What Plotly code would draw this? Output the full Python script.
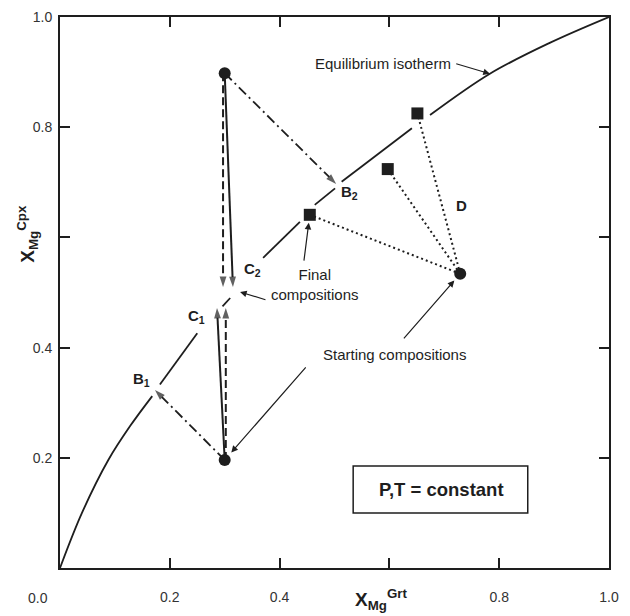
import plotly.graph_objects as go

# ---- data ----
# equilibrium isotherm (traced; None = gaps in the drawn curve)
iso_x = [0.0, 0.040, 0.088, 0.128, 0.168, None, 0.182, 0.250, None, 0.296, 0.310, None,
         0.370, 0.437, None, 0.464, 0.501, None, 0.513, 0.641, None, 0.674, 0.783, 0.892, 1.0]
iso_y = [0.0, 0.100, 0.196, 0.258, 0.312, None, 0.333, 0.426, None, 0.475, 0.490, None,
         0.563, 0.628, None, 0.659, 0.689, None, 0.701, 0.798, None, 0.822, 0.897, 0.953, 1.0]

# starting compositions (circles): top, bottom, D
start_x = [0.300, 0.300, 0.729]
start_y = [0.898, 0.196, 0.534]

# final compositions (squares)
final_x = [0.455, 0.597, 0.651]
final_y = [0.641, 0.724, 0.825]

# end points of the exchange paths
b1_end = (0.173, 0.323)
b2_end = (0.503, 0.697)
c1_solid_end = (0.286, 0.472)
c1_dash_end = (0.302, 0.472)
c2_solid_end = (0.315, 0.510)
c2_dash_end = (0.297, 0.510)

x_ticks = [0.2, 0.4, 0.6, 0.8, 1.0]
x_ticktext = ["0.2", "0.4", "", "0.8", "1.0"]
y_ticks = [0.2, 0.4, 0.6, 0.8, 1.0]
y_ticktext = ["0.2", "0.4", "", "0.8", "1.0"]

INK = "#1e1e1e"
FONT = "Liberation Sans, Arial, Helvetica, sans-serif"

fig = go.Figure()

# isotherm
fig.add_trace(go.Scatter(x=iso_x, y=iso_y, mode="lines", line=dict(color=INK, width=1.8, shape="spline"),
                         connectgaps=False, hoverinfo="skip"))


def arrow_path(x0, y0, x1, y1, dash, width=1.8):
    fig.add_trace(go.Scatter(
        x=[x0, x1], y=[y0, y1], mode="lines+markers",
        line=dict(color=INK, width=width, dash=dash),
        marker=dict(symbol="arrow", size=[0, 11], angleref="previous", color=INK,
                    line=dict(width=0)),
        hoverinfo="skip"))


def plain_path(x0, y0, x1, y1, dash, width=2):
    fig.add_trace(go.Scatter(x=[x0, x1], y=[y0, y1], mode="lines",
                             line=dict(color=INK, width=width, dash=dash), hoverinfo="skip"))


# path B (dash-dot) to the isotherm
arrow_path(start_x[1], start_y[1], b1_end[0], b1_end[1], "10px,4px,2px,4px")
arrow_path(start_x[0], start_y[0], b2_end[0], b2_end[1], "10px,4px,2px,4px")
# path C (solid + dashed, vertical)
arrow_path(start_x[1], start_y[1], c1_solid_end[0], c1_solid_end[1], "solid", 2)
arrow_path(start_x[1] + 0.002, start_y[1], c1_dash_end[0], c1_dash_end[1], "8px,4px", 2)
arrow_path(start_x[0], start_y[0], c2_solid_end[0], c2_solid_end[1], "solid", 2)
arrow_path(start_x[0] - 0.003, start_y[0], c2_dash_end[0], c2_dash_end[1], "8px,4px", 2)
# path D (dotted) to the three final compositions
for fx, fy in zip(final_x, final_y):
    plain_path(start_x[2], start_y[2], fx, fy, "2px,3px", 2)

# markers
fig.add_trace(go.Scatter(x=final_x, y=final_y, mode="markers",
                         marker=dict(symbol="square", size=12, color=INK), hoverinfo="skip"))
fig.add_trace(go.Scatter(x=start_x, y=start_y, mode="markers",
                         marker=dict(symbol="circle", size=12, color=INK), hoverinfo="skip"))

ann = []


def label(x, y, text, size=15, bold=True):
    ann.append(dict(x=x, y=y, xref="x", yref="y", text=f"<b>{text}</b>" if bold else text,
                    showarrow=False, font=dict(family=FONT, size=size, color=INK)))


label(0.149, 0.343, "B<sub>1</sub>")
label(0.249, 0.456, "C<sub>1</sub>")
label(0.350, 0.541, "C<sub>2</sub>")
label(0.528, 0.681, "B<sub>2</sub>")
label(0.732, 0.657, "D")
label(0.588, 0.916, "Equilibrium isotherm", size=15, bold=False)
label(0.464, 0.515, "Final<br>compositions", size=15, bold=False)
label(0.610, 0.387, "Starting compositions", size=15, bold=False)
label(0.694, 0.142, "P,T = constant", size=18.5)


def pointer(x, y, ax, ay, standoff=0):
    ann.append(dict(x=x, y=y, ax=ax, ay=ay, xref="x", yref="y", axref="x", ayref="y",
                    text="", showarrow=True, arrowhead=2, arrowsize=1.1, arrowwidth=1.2,
                    arrowcolor=INK, standoff=standoff))


pointer(iso_x[22], iso_y[22], 0.719, 0.916)
pointer(final_x[0], final_y[0], 0.444, 0.555, standoff=8)
pointer(0.328, 0.501, 0.377, 0.486)
pointer(start_x[2], start_y[2], 0.624, 0.414, standoff=9)
pointer(start_x[1], start_y[1], 0.450, 0.367, standoff=10)

# origin label and axis titles
ann.append(dict(x=-0.062, y=-0.072, xref="paper", yref="paper", text="0.0", showarrow=False,
                font=dict(family=FONT, size=14, color="#333")))
ann.append(dict(x=0.585, y=-0.086, xref="paper", yref="paper",
                text="<b>X<sub>Mg</sub><sup>Grt</sup></b>", showarrow=False,
                font=dict(family=FONT, size=19, color=INK)))
ann.append(dict(x=-0.089, y=0.606, xref="paper", yref="paper", textangle=-90,
                text="<b>X<sub>Mg</sub><sup>Cpx</sup></b>", showarrow=False,
                font=dict(family=FONT, size=19, color=INK)))

# page body adds an 8px offset, so the figure is 8px smaller than the window
fig.update_layout(
    width=622, height=608,
    margin=dict(l=52, r=21, t=9, b=48, autoexpand=False),
    paper_bgcolor="white", plot_bgcolor="white",
    showlegend=False,
    annotations=ann,
    shapes=[dict(type="rect", xref="x", yref="y", x0=0.534, x1=0.852, y0=0.100, y1=0.185,
                 line=dict(color=INK, width=1.5))],
    font=dict(family=FONT, size=14, color="#333"),
)
axis_common = dict(range=[0, 1], showgrid=False, zeroline=False, showline=True, linecolor=INK,
                   linewidth=2, mirror="ticks", ticks="inside", ticklen=10, tickwidth=1.5,
                   tickcolor=INK, automargin=False,
                   tickfont=dict(family=FONT, size=14, color="#333"))
fig.update_xaxes(**axis_common, tickvals=x_ticks, ticktext=x_ticktext, ticklabelstandoff=15)
fig.update_yaxes(**axis_common, tickvals=y_ticks, ticktext=y_ticktext, ticklabelstandoff=3)

fig.write_html("out.html")
